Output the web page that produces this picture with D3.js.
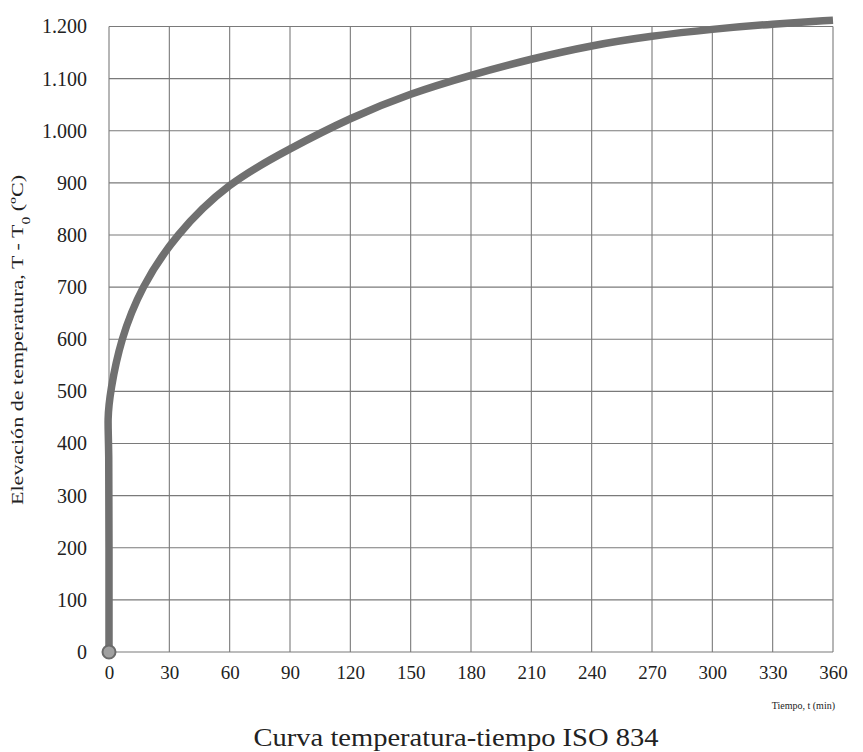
<!DOCTYPE html>
<html>
<head>
<meta charset="utf-8">
<script src="https://cdn.jsdelivr.net/npm/d3@7"></script>
<style>
  body { margin: 0; background: #fff; }
  svg { display: block; }
  text { font-family: "Liberation Serif", "Times New Roman", serif; fill: #222; }
</style>
</head>
<body>
<div id="chart"></div>
<script>
// values
var tiempo = [0, 0, 0, -0.8, 0.6, 5.8, 16, 33, 59, 90, 120, 150, 180, 210, 240, 270, 300, 330, 360];
var elevacion = [0, 200, 400, 445, 500, 600, 700, 800, 900, 966, 1025, 1072, 1107, 1138, 1164, 1182, 1195, 1205, 1212];
var xTicks = [0, 30, 60, 90, 120, 150, 180, 210, 240, 270, 300, 330, 360];
var yTicks = [0, 100, 200, 300, 400, 500, 600, 700, 800, 900, 1000, 1100, 1200];

var W = 863, H = 752;
var margin = { top: 26.5, right: 30, bottom: 100, left: 109 };
var width = 833 - margin.left, height = 652 - margin.top;

var svg = d3.select("#chart").append("svg")
    .attr("width", W)
    .attr("height", H);

var g = svg.append("g")
    .attr("transform", "translate(" + margin.left + "," + margin.top + ")");

var x = d3.scaleLinear().domain([0, 360]).range([0, width]);
var y = d3.scaleLinear().domain([0, 1200]).range([height, 0]);

var fmt = function(d){ return d3.format(",")(d).replace(",", "."); };

// grid
g.append("g").selectAll("line.v")
    .data(xTicks).enter().append("line")
    .attr("x1", function(d){ return x(d); })
    .attr("x2", function(d){ return x(d); })
    .attr("y1", 0).attr("y2", height)
    .attr("stroke", "#7a7a7a").attr("stroke-width", 1.1);

g.append("g").selectAll("line.h")
    .data(yTicks).enter().append("line")
    .attr("x1", 0).attr("x2", width)
    .attr("y1", function(d){ return y(d); })
    .attr("y2", function(d){ return y(d); })
    .attr("stroke", "#7a7a7a").attr("stroke-width", 1.1);

// axes (labels only)
var yAxis = g.append("g")
    .call(d3.axisLeft(y).tickValues(yTicks).tickSize(0).tickPadding(22).tickFormat(fmt));
yAxis.select(".domain").remove();
yAxis.selectAll("text")
    .style("font-family", "'Liberation Serif', serif")
    .style("font-size", "20px")
    .attr("fill", "#222");

var xAxis = g.append("g")
    .attr("transform", "translate(0," + height + ")")
    .call(d3.axisBottom(x).tickValues(xTicks).tickSize(0).tickPadding(14));
xAxis.select(".domain").remove();
xAxis.selectAll("text")
    .style("font-family", "'Liberation Serif', serif")
    .style("font-size", "19px")
    .attr("fill", "#222");

// curve, smoothed
var data = tiempo.map(function(t, i){ return { t: t, v: elevacion[i] }; });

var line = d3.line()
    .x(function(d){ return x(d.t); })
    .y(function(d){ return y(d.v); })
    .curve(d3.curveBasis);

g.append("path")
    .datum(data)
    .attr("d", line)
    .attr("fill", "none")
    .attr("stroke", "#707070")
    .attr("stroke-width", 7.5)
    .attr("stroke-linecap", "butt");

g.append("circle")
    .attr("cx", x(0)).attr("cy", y(0))
    .attr("r", 6.5)
    .attr("fill", "#a0a0a0")
    .attr("stroke", "#6a6a6a")
    .attr("stroke-width", 2);

// labels
svg.append("text")
    .attr("transform", "translate(23," + 340 + ") rotate(-90)")
    .attr("text-anchor", "middle")
    .attr("textLength", 330)
    .attr("lengthAdjust", "spacingAndGlyphs")
    .style("font-size", "17px")
    .html("Elevación de temperatura, T - T<tspan baseline-shift='sub' font-size='12px'>0</tspan> (ºC)");

svg.append("text")
    .attr("x", 835).attr("y", 709)
    .attr("text-anchor", "end")
    .style("font-size", "10px")
    .text("Tiempo, t (min)");

svg.append("text")
    .attr("x", 456).attr("y", 746)
    .attr("text-anchor", "middle")
    .attr("textLength", 405)
    .attr("lengthAdjust", "spacingAndGlyphs")
    .style("font-size", "26px")
    .text("Curva temperatura-tiempo ISO 834");
</script>
</body>
</html>
